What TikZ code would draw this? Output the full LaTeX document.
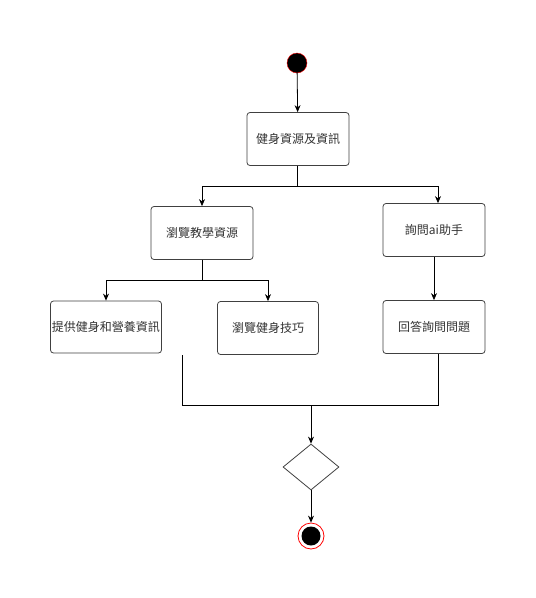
\documentclass[tikz,border=0pt]{standalone}
\usepackage{fontspec}
\setmainfont{Noto Sans CJK TC}
\usetikzlibrary{shapes.geometric, arrows.meta, positioning}

\tikzset{
  actbox/.style={draw=black!75, rounded corners=3pt, line width=0.8pt, fill=white,
    minimum width=102pt, minimum height=53pt, inner sep=1pt,
    font=\fontsize{12}{14}\selectfont, text=black!80},
  flow/.style={line width=0.8pt, -{Stealth[length=7pt, width=6pt]}},
  plain/.style={line width=0.8pt}
}

\begin{document}
\begin{tikzpicture}[x=1pt, y=-1pt]
    \useasboundingbox (0,0) rectangle (536,598);

    % start point
    \node[circle, draw=red, fill=black, minimum size=20pt, inner sep=0pt] (start) at (297,63) {};

    % activities
    \node[actbox] (info) at (298,139) {健身資源及資訊};
    \node[actbox] (browse) at (202,233) {瀏覽教學資源};
    \node[actbox] (ask) at (434,230) {詢問ai助手};
    \node[actbox, minimum width=111pt, minimum height=52pt] (provide) at (106,327) {提供健身和營養資訊};
    \node[actbox, minimum width=101pt] (skill) at (268,328) {瀏覽健身技巧};
    \node[actbox] (answer) at (434,327) {回答詢問問題};

    % merge and end
    \node[diamond, draw=black!75, line width=0.8pt, minimum width=56pt, minimum height=46pt, inner sep=0pt, aspect=1.2] (merge) at (311,467) {};
    \node[circle, draw=red, line width=0.8pt, minimum size=26pt, inner sep=0pt] (finish) at (311,536) {};
    \node[circle, fill=black, minimum size=19pt, inner sep=0pt] (finishdot) at (finish) {};

    % helper points
    \coordinate (split1) at (297,186);
    \coordinate (split2) at (202,280);
    \coordinate (loose) at (182,355);
    \coordinate (joinL) at (182,405);
    \coordinate (joinM) at (311,405);
    \coordinate (joinR) at (438,405);

    % connectors
    \draw[flow] (start) -- (info);
    \draw[plain] (info.south -| split1) -- (split1);
    \draw[flow] (split1) -| (browse.north);
    \draw[flow] (split1) -| ([xshift=4pt]ask.north);
    \draw[plain] (browse.south) -- (split2);
    \draw[flow] (split2) -| (provide.north);
    \draw[flow] (split2) -| (skill.north);
    \draw[flow] (ask) -- (answer);

    \draw[plain] (loose) -- (joinL) -- (joinR) -- ([xshift=4pt]answer.south);
    \draw[flow] (joinM) -- (merge.north);
    \draw[flow] (merge.south) -- (finish.north);
\end{tikzpicture}
\end{document}
